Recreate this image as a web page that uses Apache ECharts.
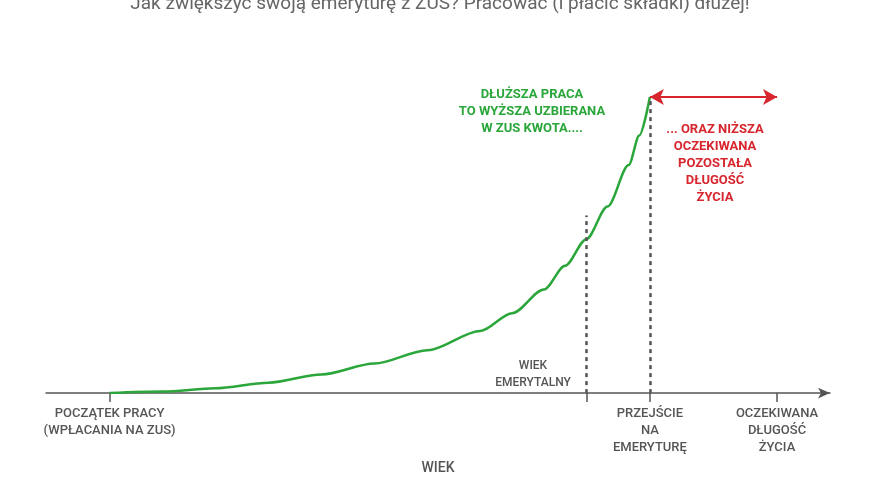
<!DOCTYPE html>
<html><head><meta charset="utf-8">
<script src="https://cdn.jsdelivr.net/npm/echarts@6/dist/echarts.min.js"></script>
<style>html,body{margin:0;padding:0;background:#fff}#c{width:880px;height:480px}</style>
</head><body><div id="c"></div>
<script>
const ages = [20, 25, 30, 35, 40, 45, 50, 55, 58, 61, 63, 65, 67, 69, 70, 71];
const savings = [0, 0.5, 1.6, 3.5, 6.3, 10, 14.5, 21, 27, 35, 43, 52, 63, 77, 87, 100];
const tickAges = [20, 65, 71, 83];
const tickLabels = {20: 'POCZĄTEK PRACY\n(WPŁACANIA NA ZUS)', 71: 'PRZEJŚCIE\nNA\nEMERYTURĘ', 83: 'OCZEKIWANA\nDŁUGOŚĆ\nŻYCIA'};
const retirementAge = 65, actualRetirement = 71, lifeExpectancy = 83;
const retirementValue = 60, topValue = 100;
const green = '#2aa63a', red = '#d7262e', gray = '#555';
const font = 'Roboto';
const chart = echarts.init(document.getElementById('c'));
chart.setOption({
  animation: false,
  textStyle: {fontFamily: font},
  title: {text: 'Jak zwiększyć swoją emeryturę z ZUS? Pracować (i płacić składki) dłużej!', left: 'center', top: -10,
    textStyle: {fontFamily: font, fontSize: 19, fontWeight: 'normal', color: '#666'}},
  grid: {left: 46, right: 50, top: 97, bottom: 85},
  xAxis: {type: 'value', min: 14, max: 88,
    name: 'WIEK', nameLocation: 'middle', nameGap: 66, nameTextStyle: {color: gray, fontSize: 14, fontWeight: 500, fontFamily: font},
    axisLine: {lineStyle: {color: '#555', width: 1.5}, symbol: ['none', 'arrow'], symbolSize: [8, 12]},
    axisTick: {show: true, customValues: tickAges, length: 9, lineStyle: {color: '#555', width: 1.5}},
    axisLabel: {customValues: [20, 71, 83], formatter: v => tickLabels[v] || '', color: gray, fontSize: 13, fontWeight: 500, lineHeight: 17, margin: 12, fontFamily: font},
    splitLine: {show: false}},
  yAxis: {type: 'value', min: 0, max: 100, show: false},
  series: [{
    type: 'line', smooth: 0.3, smoothMonotone: 'x', showSymbol: false, data: ages.map((a, i) => [a, savings[i]]),
    lineStyle: {color: green, width: 2.5}, z: 3,
    markLine: {silent: true, symbol: 'none', animation: false, data: [
      [{coord: [retirementAge, 0], lineStyle: {color: '#555', type: [4, 4], width: 2.5}}, {coord: [retirementAge, retirementValue]}],
      [{coord: [actualRetirement, 0], lineStyle: {color: '#555', type: [4, 4], width: 2.5}}, {coord: [actualRetirement, topValue]}],
      [{coord: [actualRetirement, topValue], symbol: 'arrow', lineStyle: {color: red, type: 'solid', width: 2}}, {coord: [lifeExpectancy, topValue], symbol: 'arrow'}]
    ], label: {show: false}, symbolSize: [12, 14]}
  }],
  graphic: [
    {type: 'text', x: 532, y: 86, style: {text: 'DŁUŻSZA PRACA\nTO WYŻSZA UZBIERANA\nW ZUS KWOTA....', fill: green, font: 'bold 13px Roboto', lineHeight: 17, align: 'center'}},
    {type: 'text', x: 715, y: 121, style: {text: '... ORAZ NIŻSZA\nOCZEKIWANA\nPOZOSTAŁA\nDŁUGOŚĆ\nŻYCIA', fill: red, font: 'bold 13px Roboto', lineHeight: 17, align: 'center'}},
    {type: 'text', x: 533, y: 357, style: {text: 'WIEK\nEMERYTALNY', fill: gray, font: '500 12px Roboto', lineHeight: 17, align: 'center'}}
  ]
});
</script></body></html>
